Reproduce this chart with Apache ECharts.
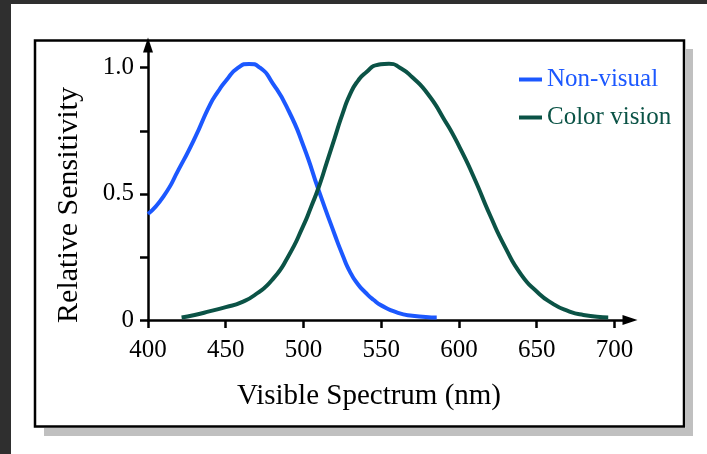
<!DOCTYPE html>
<html lang="en">
<head>
  <meta charset="UTF-8">
  <title>Relative Sensitivity</title>
  <script src="https://cdn.jsdelivr.net/npm/echarts@6/dist/echarts.min.js"></script>
  <style>
        html,body{
            margin:0;
            padding:0;
            background:#fff;
        }
        #main{
            width:707px;
            height:454px;
        }
  </style>
</head>
<body>
<div id="main"></div>
<script>
    // wavelength (nm) / relative sensitivity
    var nonVisualNm  = [400, 410, 420, 430, 440, 445, 450, 458, 465, 472, 480, 490, 500, 510, 520, 525, 530, 535, 540, 545, 550, 560, 570, 585.7];
    var nonVisualVal = [0.42, 0.49, 0.60, 0.72, 0.855, 0.905, 0.947, 1.0, 1.015, 1.0, 0.94, 0.835, 0.69, 0.51, 0.34, 0.26, 0.19, 0.142, 0.108, 0.08, 0.058, 0.03, 0.017, 0.01];

    var colorNm  = [421.6, 430, 440, 450, 460, 470, 480, 490, 500, 505, 510, 515, 520, 525, 530, 535, 540, 548, 555, 562, 570, 580, 590, 600, 610, 620, 630, 640, 650, 660, 670, 680, 696];
    var colorVal = [0.01, 0.02, 0.035, 0.051, 0.07, 0.105, 0.16, 0.25, 0.375, 0.45, 0.53, 0.625, 0.72, 0.815, 0.895, 0.948, 0.98, 1.012, 1.016, 1.0, 0.962, 0.896, 0.80, 0.69, 0.56, 0.415, 0.285, 0.18, 0.113, 0.066, 0.036, 0.02, 0.01];

    var xTicks = [400, 450, 500, 550, 600, 650, 700];
    var yTicks = [0, 0.25, 0.5, 0.75, 1];
    var yLabels = [0, 0.5, 1];

    var blue = '#1c58ff';
    var green = '#0b5346';
    var font = 'Liberation Serif';

    function pairs(xs, ys){
      var out = [];
      for(var i=0;i<xs.length;i++){ out.push([xs[i], ys[i]]); }
      return out;
    }

    var chart = echarts.init(document.querySelector('#main'), null, {renderer:'canvas'});

    chart.setOption({
      backgroundColor:'#ffffff',
      animation:false,
      textStyle:{fontFamily:font},
      grid:{left:148, right:77, top:45, bottom:134, containLabel:false},
      legend:{
        orient:'vertical',
        left:514, top:62,
        itemWidth:23, itemHeight:4, itemGap:13,
        icon:'rect',
        textStyle:{fontFamily:font, fontSize:25},
        data:[
          {name:'Non-visual', textStyle:{color:blue}},
          {name:'Color vision', textStyle:{color:green}}
        ]
      },
      xAxis:{
        type:'value', min:400, max:710,
        splitLine:{show:false},
        axisLine:{onZero:false, lineStyle:{color:'#000', width:2.5}, symbol:['none','triangle'], symbolSize:[10,15]},
        axisTick:{show:true, length:8, lineStyle:{color:'#000', width:2.5}, customValues:xTicks},
        axisLabel:{color:'#000', fontFamily:font, fontSize:25, margin:18, customValues:xTicks}
      },
      yAxis:{
        type:'value', min:0, max:1.09,
        splitLine:{show:false},
        axisLine:{onZero:false, lineStyle:{color:'#000', width:2.5}, symbol:['none','triangle'], symbolSize:[10,15]},
        axisTick:{show:true, length:8, lineStyle:{color:'#000', width:2.5}, customValues:yTicks},
        axisLabel:{color:'#000', fontFamily:font, fontSize:25, margin:14, customValues:yLabels,
          formatter:function(v){ return v===0 ? '0' : v.toFixed(1); }}
      },
      graphic:[
        {type:'rect', shape:{x:0, y:0, width:11, height:454}, style:{fill:'#2f2f2f'}, silent:true},
        {type:'rect', shape:{x:0, y:0, width:707, height:4}, style:{fill:'#2f2f2f'}, silent:true},
        {type:'rect', shape:{x:686, y:49, width:7, height:387}, style:{fill:'#c0c0c0'}, silent:true},
        {type:'rect', shape:{x:44, y:428, width:649, height:8}, style:{fill:'#c0c0c0'}, silent:true},
        {type:'rect', shape:{x:35, y:40.5, width:649, height:386}, style:{fill:'none', stroke:'#000', lineWidth:2.5}, silent:true},
        {type:'text', x:369, y:396, style:{text:'Visible Spectrum (nm)', fill:'#000', font:'29px "Liberation Serif"', textAlign:'center', textVerticalAlign:'middle'}, silent:true},
        {type:'text', x:69, y:205, rotation:Math.PI/2, style:{text:'Relative Sensitivity', fill:'#000', font:'30px "Liberation Serif"', textAlign:'center', textVerticalAlign:'middle'}, silent:true}
      ],
      series:[
        {
          name:'Non-visual',
          type:'line',
          smooth:0.6,
          showSymbol:false,
          data:pairs(nonVisualNm, nonVisualVal),
          itemStyle:{color:blue},
          lineStyle:{color:blue, width:4}
        },{
          name:'Color vision',
          type:'line',
          smooth:0.6,
          showSymbol:false,
          data:pairs(colorNm, colorVal),
          itemStyle:{color:green},
          lineStyle:{color:green, width:4}
        }
      ]
    });
</script>
</body>
</html>
